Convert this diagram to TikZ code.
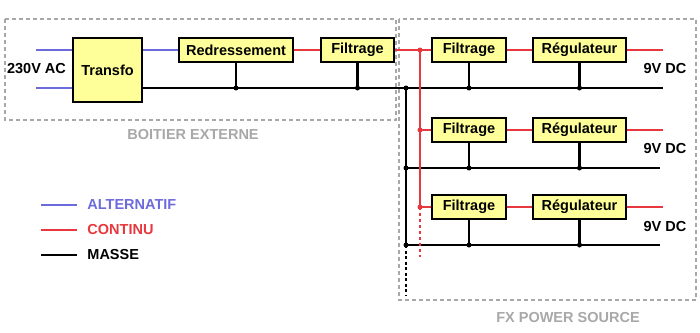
\documentclass[tikz,border=0pt]{standalone}
\usepackage{fontspec}
\setmainfont{Liberation Sans}
\usepackage{xcolor}
\usetikzlibrary{positioning}

\definecolor{acblue}{HTML}{6B6BDC}
\definecolor{dcred}{HTML}{E8383D}
\definecolor{boxyellow}{HTML}{FFFF99}
\definecolor{zonegray}{HTML}{A8A8A8}

\begin{document}
\begin{tikzpicture}[
        x=1pt, y=-1pt,
        font=\fontsize{14.5}{17}\selectfont\bfseries,
        block/.style={rectangle, draw, line width=2pt, fill=boxyellow, minimum height=24pt, inner sep=0pt, align=center},
        ac/.style={acblue, line width=2.2pt},
        dc/.style={dcred, line width=2.2pt},
        gnd/.style={black, line width=2.2pt},
        zone/.style={zonegray, line width=1.6pt, dash pattern=on 4pt off 3pt},
        zonelabel/.style={text=zonegray},
        junction/.style={circle, fill, inner sep=0pt, minimum size=5pt}
    ]
        \useasboundingbox (0,0) rectangle (700,332);

        % zones
        \draw[zone] (5,19) rectangle (396,120);
        \draw[zone] (399,19) rectangle (696,300);
        \node[zonelabel] (boitier) at (193,135) {BOITIER EXTERNE};
        \node[zonelabel] (fxps) at (568,318) {FX POWER SOURCE};

        % boitier externe
        \node[block, minimum width=69pt, minimum height=64pt] (transfo) at (107.5,70) {Transfo};
        \node[block, minimum width=114pt] (redr) at (236,50) {Redressement};
        \node[block, minimum width=73pt] (filt0) at (357.5,50) {Filtrage};
        \node (ac230) at (36.5,69) {230V AC};

        % fx power source
        \node[block, minimum width=74pt] (filt1) at (469,50) {Filtrage};
        \node[block, minimum width=93pt] (reg1) at (579.5,50) {Régulateur};
        \node[block, minimum width=74pt] (filt2) at (469,130) {Filtrage};
        \node[block, minimum width=93pt] (reg2) at (579.5,130) {Régulateur};
        \node[block, minimum width=74pt] (filt3) at (469,207) {Filtrage};
        \node[block, minimum width=93pt] (reg3) at (579.5,207) {Régulateur};
        \node (out1) at (665,69) {9V DC};
        \node (out2) at (665,149) {9V DC};
        \node (out3) at (665,227) {9V DC};

        \coordinate (acin1) at (36,50);
        \coordinate (acin2) at (36,88);
        \coordinate (gnd1) at (663,88);
        \coordinate (gnd2) at (660,168);
        \coordinate (gnd3) at (660,245);
        \coordinate (gndbus) at (406,88);
        \coordinate (gndend) at (406,295);
        \coordinate (dcbus) at (420,50);
        \coordinate (dcend) at (420,257);
        \coordinate (dc1) at (663,50);
        \coordinate (dc2) at (663,130);
        \coordinate (dc3) at (663,207);

        % alternatif
        \draw[ac] (acin1) -- (acin1 -| transfo.west);
        \draw[ac] (acin2) -- (acin2 -| transfo.west);
        \draw[ac] (transfo.east |- redr) -- (redr.west);

        % masse
        \draw[gnd] (transfo.east |- gnd1) -- (gnd1);
        \draw[gnd] (redr.south) -- (redr.south |- gnd1) node[junction]{};
        \draw[gnd] (filt0.south) -- (filt0.south |- gnd1) node[junction]{};
        \draw[gnd] (gndbus) node[junction]{} -- (gndbus |- gnd3);
        \draw[gnd, dash pattern=on 3pt off 2.5pt] (gndbus |- gnd3) -- (gndend);
        \draw[gnd] (gndbus |- gnd2) node[junction]{} -- (gnd2);
        \draw[gnd] (gndbus |- gnd3) node[junction]{} -- (gnd3);
        \draw[gnd] (filt1.south) -- (filt1.south |- gnd1) node[junction]{};
        \draw[gnd] (reg1.south) -- (reg1.south |- gnd1) node[junction]{};
        \draw[gnd] (filt2.south) -- (filt2.south |- gnd2) node[junction]{};
        \draw[gnd] (reg2.south) -- (reg2.south |- gnd2) node[junction]{};
        \draw[gnd] (filt3.south) -- (filt3.south |- gnd3) node[junction]{};
        \draw[gnd] (reg3.south) -- (reg3.south |- gnd3) node[junction]{};

        % continu
        \draw[dc] (redr) -- (filt0);
        \draw[dc] (filt0) -- (filt1);
        \draw[dc] (dcbus) -- (dcbus |- filt3);
        \draw[dc, dash pattern=on 3pt off 3pt] (dcbus |- filt3) -- (dcend);
        \node[junction, dcred] at (dcbus) {};
        \draw[dc] (dcbus |- filt2) node[junction]{} -- (filt2);
        \draw[dc] (dcbus |- filt3) node[junction]{} -- (filt3);
        \draw[dc] (filt1) -- (reg1);
        \draw[dc] (filt2) -- (reg2);
        \draw[dc] (filt3) -- (reg3);
        \draw[dc] (reg1.east) -- (dc1);
        \draw[dc] (reg2.east) -- (dc2);
        \draw[dc] (reg3.east) -- (dc3);

        % legende
        \coordinate (legac) at (41,205);
        \coordinate (legdc) at (41,230);
        \coordinate (leggnd) at (41,255);
        \draw[ac] (legac) -- ++(36,0) node[right=6pt, text=acblue] (legactext) {ALTERNATIF};
        \draw[dc] (legdc) -- ++(36,0) node[right=6pt, text=dcred] (legdctext) {CONTINU};
        \draw[gnd] (leggnd) -- ++(36,0) node[right=6pt] (leggndtext) {MASSE};
    \end{tikzpicture}
\end{document}
